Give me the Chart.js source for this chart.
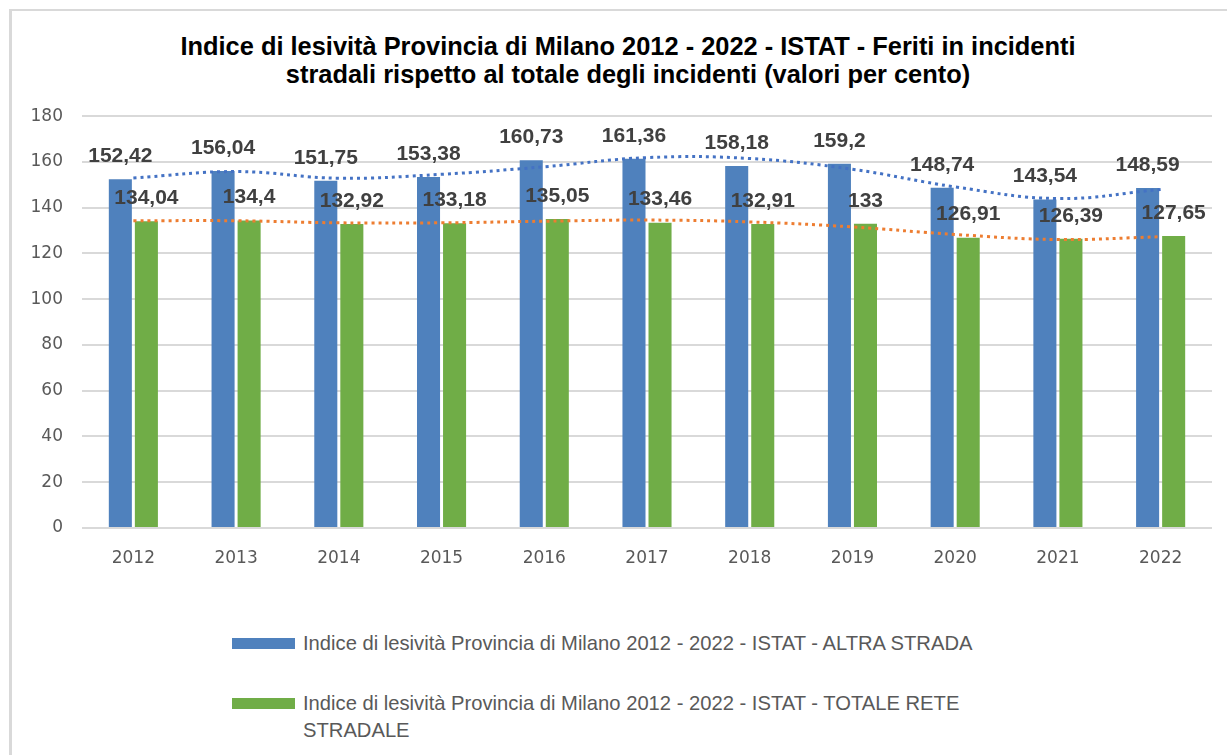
<!DOCTYPE html>
<html>
<head>
<meta charset="utf-8">
<script src="https://cdn.jsdelivr.net/npm/chart.js@4.4.1/dist/chart.umd.min.js"></script>
<style>
  html, body { margin: 0; padding: 0; background: #fff; }
  body { width: 1227px; height: 755px; position: relative; overflow: hidden; }
  .frame {
    position: absolute; left: 9px; top: 9px; width: 1260px; height: 800px;
    border-left: 3px solid #d9d9d9; border-top: 2px solid #d9d9d9;
  }
  .title {
    position: absolute; left: 10px; top: 32px; width: 1236px; text-align: center;
    font-family: "Liberation Sans", Arial, sans-serif; font-weight: bold; font-size: 25.4px;
    line-height: 28px; color: #000;
  }
  #chart { position: absolute; left: 0; top: 87px; }
  .legend { position: absolute; left: 0; top: 0; font-family: "Liberation Sans", sans-serif; font-size: 20.2px; color: #595959; }
  .legend .item { position: absolute; left: 232px; white-space: nowrap; }
  .legend .box { position: absolute; left: 0; width: 63px; height: 11px; }
  .legend .txt { position: absolute; left: 71px; line-height: 27px; }
</style>
</head>
<body>
<div class="frame"></div>
<div class="title">Indice di lesività Provincia di Milano 2012 - 2022 - ISTAT - Feriti in incidenti<br>stradali rispetto al totale degli incidenti (valori per cento)</div>
<canvas id="chart" width="1227" height="491"></canvas>
<div class="legend">
  <div class="item" style="top:638px">
    <div class="box" style="background:#4f81bd"></div>
    <div class="txt" style="top:-8px">Indice di lesività Provincia di Milano 2012 - 2022 - ISTAT - ALTRA STRADA</div>
  </div>
  <div class="item" style="top:698px">
    <div class="box" style="background:#70ad47"></div>
    <div class="txt" style="top:-8px">Indice di lesività Provincia di Milano 2012 - 2022 - ISTAT - TOTALE RETE<br>STRADALE</div>
  </div>
</div>
<script>
const years = ['2012', '2013', '2014', '2015', '2016', '2017', '2018', '2019', '2020', '2021', '2022'];
const altraStrada = [152.42, 156.04, 151.75, 153.38, 160.73, 161.36, 158.18, 159.2, 148.74, 143.54, 148.59];
const totaleRete = [134.04, 134.4, 132.92, 133.18, 135.05, 133.46, 132.91, 133, 126.91, 126.39, 127.65];
// trend lines
const trendAltra = [153.0, 155.8, 152.9, 154.6, 157.9, 161.9, 161.5, 156.8, 149.1, 144.0, 148.0];
const trendTotale = [134.3, 134.3, 133.4, 133.4, 134.1, 134.6, 133.8, 131.6, 128.3, 126.1, 127.3];
const yTicks = [0, 20, 40, 60, 80, 100, 120, 140, 160, 180];

const fmt = (v) => String(v).replace('.', ',');

const barLabels = {
  id: 'barLabels',
  afterDatasetsDraw(chart) {
    const ctx = chart.ctx;
    ctx.save();
    ctx.font = 'bold 21px "Liberation Sans", Arial, sans-serif';
    ctx.fillStyle = '#404040';
    ctx.textAlign = 'center';
    ctx.textBaseline = 'middle';
    [0, 1].forEach((i) => {
      const meta = chart.getDatasetMeta(i);
      meta.data.forEach((bar, j) => {
        ctx.fillText(fmt(chart.data.datasets[i].data[j]), bar.x, bar.y - 23);
      });
    });
    ctx.restore();
  }
};

new Chart(document.getElementById('chart'), {
  type: 'bar',
  data: {
    labels: years,
    datasets: [
      {
        label: 'Indice di lesività Provincia di Milano 2012 - 2022 - ISTAT - ALTRA STRADA',
        data: altraStrada,
        backgroundColor: '#4f81bd',
        categoryPercentage: 0.507,
        barPercentage: 0.885,
        order: 1
      },
      {
        label: 'Indice di lesività Provincia di Milano 2012 - 2022 - ISTAT - TOTALE RETE STRADALE',
        data: totaleRete,
        backgroundColor: '#70ad47',
        categoryPercentage: 0.507,
        barPercentage: 0.885,
        order: 1
      },
      {
        type: 'line',
        data: trendAltra,
        borderColor: '#4472c4',
        borderWidth: 3,
        borderDash: [3, 4],
        pointRadius: 0,
        tension: 0.4,
        fill: false,
        order: 0
      },
      {
        type: 'line',
        data: trendTotale,
        borderColor: '#ed7d31',
        borderWidth: 3,
        borderDash: [3, 4],
        pointRadius: 0,
        tension: 0.4,
        fill: false,
        order: 0
      }
    ]
  },
  options: {
    responsive: false,
    animation: false,
    devicePixelRatio: 1,
    layout: { padding: { top: 11, left: 0, right: 15, bottom: 0 } },
    plugins: { legend: { display: false }, title: { display: false }, tooltip: { enabled: false } },
    scales: {
      x: {
        grid: { display: false },
        border: { display: false },
        ticks: { color: '#595959', font: { family: 'DejaVu Sans', size: 17 }, padding: 12 },
        afterFit: (s) => { s.height = 50; }
      },
      y: {
        min: 0,
        max: 180,
        grid: { color: '#d9d9d9', lineWidth: 2, drawTicks: false },
        border: { display: false },
        afterBuildTicks: (s) => { s.ticks = yTicks.map((v) => ({ value: v })); },
        ticks: { color: '#595959', font: { family: 'DejaVu Sans', size: 17 }, padding: 19 },
        afterFit: (s) => { s.width = 82; }
      }
    }
  },
  plugins: [barLabels]
});
</script>
</body>
</html>
